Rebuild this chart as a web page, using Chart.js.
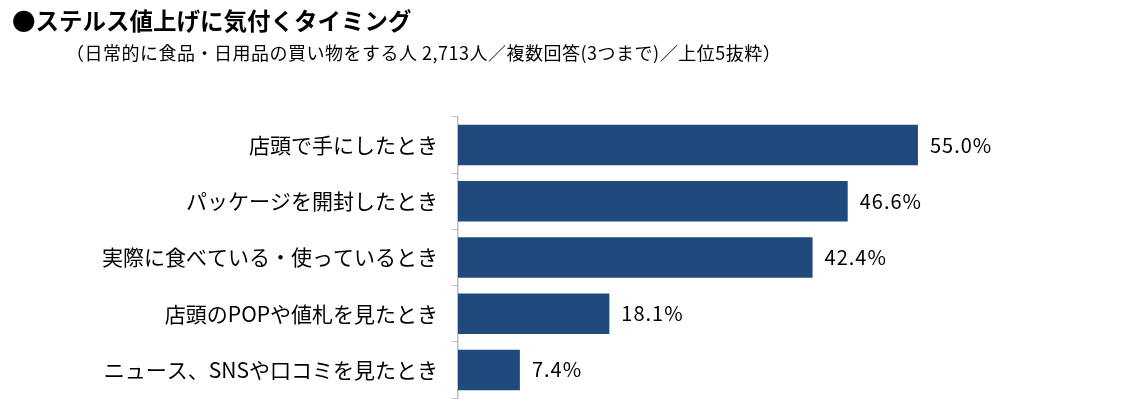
<!DOCTYPE html>
<html>
<head>
<meta charset="utf-8">
<script src="https://cdn.jsdelivr.net/npm/chart.js@4"></script>
<style>
  body { margin: 0; background: #fff; font-family: "Noto Sans CJK JP", sans-serif; }
  #wrap { position: relative; width: 1139px; height: 402px; }
  #title { position: absolute; left: 12px; top: 3px; font-size: 23.5px; font-weight: bold; color: #000; white-space: nowrap; }
  #sub { position: absolute; left: 66px; top: 39px; font-size: 18px; letter-spacing: 0.5px; color: #000; white-space: nowrap; }
  canvas { position: absolute; left: 0; top: 0; }
</style>
</head>
<body>
<div id="wrap">
  <canvas id="timingChart" width="1139" height="402"></canvas>
  <div id="title">●ステルス値上げに気付くタイミング</div>
  <div id="sub">（日常的に食品・日用品の買い物をする人 2,713人／複数回答(3つまで)／上位5抜粋）</div>
</div>
<script>
var categories = [
  "店頭で手にしたとき",
  "パッケージを開封したとき",
  "実際に食べている・使っているとき",
  "店頭のPOPや値札を見たとき",
  "ニュース、SNSや口コミを見たとき"
];
var percentages = [55.0, 46.6, 42.4, 18.1, 7.4];

// 棒の右に値を描く
var valueLabels = {
  id: "valueLabels",
  afterDatasetsDraw: function (chart) {
    var ctx = chart.ctx;
    var meta = chart.getDatasetMeta(0);
    ctx.save();
    ctx.font = '20px "Noto Sans CJK JP"';
    ctx.letterSpacing = "1px";
    ctx.fillStyle = "#000";
    ctx.textBaseline = "middle";
    meta.data.forEach(function (bar, i) {
      ctx.fillText(percentages[i].toFixed(1) + "%", bar.x + 12, bar.y);
    });
    ctx.restore();
  }
};

var ctx = document.getElementById("timingChart").getContext("2d");
var timingChart = new Chart(ctx, {
  type: "bar",
  data: {
    labels: categories,
    datasets: [
      {
        data: percentages,
        backgroundColor: "#214a7c",
        barPercentage: 0.72,
        categoryPercentage: 1,
      },
    ],
  },
  options: {
    indexAxis: "y",
    responsive: false,
    animation: false,
    layout: { padding: { top: 117, bottom: 4, left: 0, right: 12 } },
    plugins: { legend: { display: false }, tooltip: { enabled: false } },
    scales: {
      x: { display: false, min: 0, max: 80 },
      y: {
        afterFit: function (scale) {
          scale.width = 458;
          scale.paddingTop = 0;
          scale.paddingBottom = 0;
        },
        border: { color: "#bfbfbf", width: 1.5 },
        grid: { drawOnChartArea: false, color: "#bfbfbf", tickLength: 6, offset: true },
        ticks: { color: "#000", padding: 14, font: { family: "Noto Sans CJK JP", size: 21 } },
      },
    },
  },
  plugins: [valueLabels],
});
</script>
</body>
</html>
